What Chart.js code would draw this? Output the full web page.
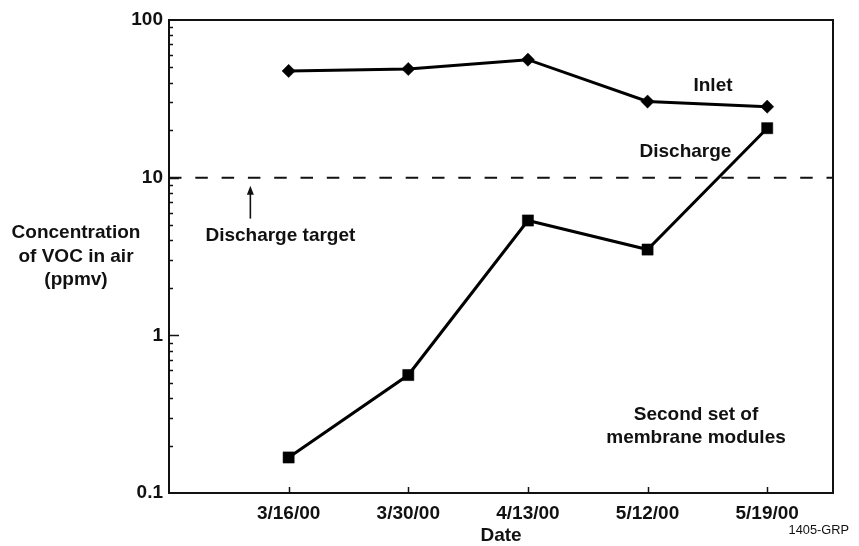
<!DOCTYPE html>
<html>
<head>
<meta charset="utf-8">
<script src="https://cdn.jsdelivr.net/npm/chart.js@4.4.1/dist/chart.umd.min.js"></script>
<style>
  html, body { margin: 0; padding: 0; background: #fff; }
  #wrap { width: 859px; height: 546px; }
</style>
</head>
<body>
<div id="wrap"><canvas id="c" width="859" height="546"></canvas></div>
<script>
const dateLabels = ['3/16/00', '3/30/00', '4/13/00', '5/12/00', '5/19/00'];
const inletValues = [47.5, 48.9, 56, 30.4, 28.2];
const dischargeValues = [0.168, 0.56, 5.35, 3.5, 20.6];
const yTickValues = [0.1, 1, 10, 100];
const dischargeTarget = 10;

const FONT = '"Liberation Sans", Arial, Helvetica, sans-serif';

const toPoints = vals => vals.map((v, i) => ({ x: i, y: v }));

const annotate = {
  id: 'annotate',
  afterDraw(chart) {
    const ctx = chart.ctx;
    const a = chart.chartArea;
    const xs = chart.scales.x, ys = chart.scales.y;
    ctx.save();
    ctx.strokeStyle = '#111';
    ctx.fillStyle = '#111';

    // frame
    ctx.lineWidth = 2;
    ctx.strokeRect(a.left, a.top, a.right - a.left, a.bottom - a.top);

    // x ticks (inward)
    ctx.lineWidth = 1.5;
    dateLabels.forEach((_, i) => {
      const px = Math.round(xs.getPixelForValue(i)) + 0.5;
      ctx.beginPath();
      ctx.moveTo(px, a.bottom);
      ctx.lineTo(px, a.bottom - 6);
      ctx.stroke();
    });
    // y ticks major/minor (inward)
    for (let d = -1; d <= 1; d++) {
      const base = Math.pow(10, d);
      for (let k = 1; k <= 9; k++) {
        if (d === -1 && k === 1) continue;
        const v = k * base;
        const py = Math.round(ys.getPixelForValue(v)) + 0.5;
        const len = k === 1 ? 10 : 4;
        ctx.beginPath();
        ctx.moveTo(a.left, py);
        ctx.lineTo(a.left + len, py);
        ctx.stroke();
      }
    }

    // discharge target dashed line
    const ty = ys.getPixelForValue(dischargeTarget);
    ctx.lineWidth = 2;
    ctx.setLineDash([12.5, 13.8]);
    ctx.beginPath();
    ctx.moveTo(a.left, ty);
    ctx.lineTo(a.right, ty);
    ctx.stroke();
    ctx.setLineDash([]);

    // arrow
    const ax = xs.getPixelForValue(-0.32);
    const tipY = ys.getPixelForValue(8.9);
    const tailY = ys.getPixelForValue(5.5);
    ctx.lineWidth = 1.6;
    ctx.beginPath();
    ctx.moveTo(ax, tailY);
    ctx.lineTo(ax, tipY + 6);
    ctx.stroke();
    ctx.beginPath();
    ctx.moveTo(ax, tipY);
    ctx.lineTo(ax - 3.5, tipY + 9);
    ctx.lineTo(ax + 3.5, tipY + 9);
    ctx.closePath();
    ctx.fill();

    // texts
    ctx.textAlign = 'center';
    ctx.textBaseline = 'middle';
    ctx.font = 'bold 19px ' + FONT;
    ctx.fillText('Inlet', xs.getPixelForValue(3.547), ys.getPixelForValue(38.2));
    ctx.fillText('Discharge', xs.getPixelForValue(3.317), ys.getPixelForValue(14.6));
    ctx.fillText('Discharge target', xs.getPixelForValue(-0.069), ys.getPixelForValue(4.3));
    ctx.fillText('Second set of', xs.getPixelForValue(3.405), ys.getPixelForValue(0.312));
    ctx.fillText('membrane modules', xs.getPixelForValue(3.405), ys.getPixelForValue(0.223));

    // y axis title (horizontal, three lines)
    const midY = (ys.getPixelForValue(10) + ys.getPixelForValue(1)) / 2;
    const tx = a.left - 93;
    ctx.fillText('Concentration', tx, midY - 23.3);
    ctx.fillText('of VOC in air', tx, midY);
    ctx.fillText('(ppmv)', tx, midY + 23.3);

    // x axis title
    ctx.fillText('Date', (a.left + a.right) / 2, a.bottom + 43);

    // figure id
    ctx.font = '12.8px ' + FONT;
    ctx.textAlign = 'right';
    ctx.fillText('1405-GRP', chart.width - 10, a.bottom + 37.5);

    ctx.restore();
  }
};

new Chart(document.getElementById('c'), {
  type: 'line',
  data: {
    datasets: [
      {
        label: 'Inlet',
        data: toPoints(inletValues),
        borderColor: '#000',
        backgroundColor: '#000',
        borderWidth: 3,
        pointStyle: 'rectRot',
        pointRadius: 6.6,
        pointBorderWidth: 0.5,
        tension: 0
      },
      {
        label: 'Discharge',
        data: toPoints(dischargeValues),
        borderColor: '#000',
        backgroundColor: '#000',
        borderWidth: 3,
        pointStyle: 'rect',
        pointRadius: 7.9,
        pointBorderWidth: 0.5,
        tension: 0
      }
    ]
  },
  options: {
    responsive: false,
    animation: false,
    events: [],
    layout: { padding: { top: 20, right: 26, bottom: 0, left: 0 } },
    plugins: { legend: { display: false }, tooltip: { enabled: false } },
    scales: {
      x: {
        type: 'linear',
        min: -1,
        max: 4.55,
        grid: { display: false, drawTicks: false },
        border: { display: false },
        afterBuildTicks: s => { s.ticks = dateLabels.map((_, i) => ({ value: i })); },
        afterFit: s => { s.height = 53; },
        ticks: {
          autoSkip: false,
          maxRotation: 0,
          padding: 9,
          color: '#111',
          font: { family: FONT, size: 19, weight: 'bold' },
          callback: v => dateLabels[v] ?? ''
        }
      },
      y: {
        type: 'logarithmic',
        min: 0.1,
        max: 100,
        grid: { display: false, drawTicks: false },
        border: { display: false },
        afterBuildTicks: s => { s.ticks = yTickValues.map(v => ({ value: v })); },
        afterFit: s => { s.width = 169; },
        ticks: {
          padding: 6,
          color: '#111',
          font: { family: FONT, size: 19, weight: 'bold' },
          callback: v => String(v)
        }
      }
    }
  },
  plugins: [annotate]
});
</script>
</body>
</html>
